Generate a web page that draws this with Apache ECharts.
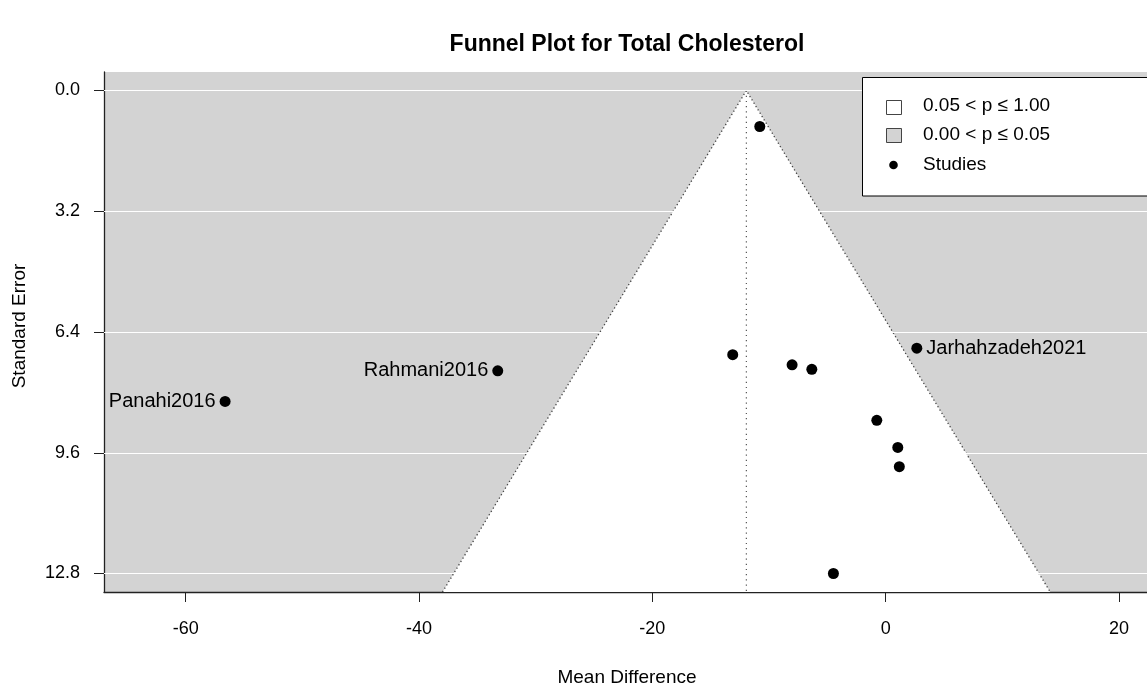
<!DOCTYPE html>
<html>
<head>
<meta charset="utf-8">
<script src="https://cdn.jsdelivr.net/npm/echarts@6/dist/echarts.min.js"></script>
<style>
  html, body { margin: 0; padding: 0; background: #ffffff; }
  #chart { width: 1147px; height: 686px; }
</style>
</head>
<body>
<div id="chart"></div>
<script>
// Study estimates: mean difference (x) and standard error (y)
const studyNames = ['', '', 'Rahmani2016', 'Panahi2016', '', '', 'Jarhahzadeh2021', '', '', '', ''];
const meanDiff   = [-10.79, -13.11, -33.25, -56.62, -8.02, -6.33, 2.67, -0.76, 1.04, 1.17, -4.48];
const stdError   = [0.954, 7.00, 7.43, 8.24, 7.27, 7.39, 6.83, 8.74, 9.46, 9.97, 12.80];
const labelSide  = ['', '', 'left', 'left', '', '', 'right', '', '', '', ''];

// Pooled estimate (funnel centre) and pseudo-confidence multiplier
const pooledEstimate = -11.94;
const zCrit = 1.96;

// Axis ticks
const seTicks = [0.0, 3.2, 6.4, 9.6, 12.8];
const mdTicks = [-60, -40, -20, 0, 20];

const X_MIN = -67, X_MAX = 22.4;
const Y_MIN = -0.49, Y_MAX = 13.29;

const FONT = '"Liberation Sans", Arial, sans-serif';
const FS = 19;        // legend and axis titles
const FS_TICK = 18;   // tick labels
const FS_STUDY = 20;  // study labels
const GREY = '#d3d3d3';

const chart = echarts.init(document.getElementById('chart'), null, { renderer: 'canvas' });

const points = meanDiff.map((x, i) => ({
  value: [x, stdError[i]],
  label: studyNames[i] ? {
    show: true,
    formatter: studyNames[i],
    position: labelSide[i],
    distance: 4
  } : { show: false }
}));

const option = {
  animation: false,
  backgroundColor: '#ffffff',
  grid: {
    left: 104, right: 0, top: 72, bottom: 94,
    show: true, backgroundColor: GREY, borderWidth: 0
  },
  xAxis: {
    type: 'value', min: X_MIN, max: X_MAX,
    axisLine: { show: true, onZero: false, lineStyle: { color: '#222', width: 1.3 } },
    axisTick: { show: true, length: 10, customValues: mdTicks, lineStyle: { color: '#222' } },
    axisLabel: { customValues: mdTicks, color: '#000', fontFamily: FONT, fontSize: FS_TICK, margin: 28 },
    splitLine: { show: false }
  },
  yAxis: {
    type: 'value', inverse: true, min: Y_MIN, max: Y_MAX,
    axisLine: { show: true, onZero: false, lineStyle: { color: '#222', width: 1.3 } },
    axisTick: { show: true, length: 10, customValues: seTicks, lineStyle: { color: '#222' } },
    axisLabel: {
      customValues: seTicks, color: '#000', fontFamily: FONT, fontSize: FS_TICK, margin: 24,
      formatter: v => v.toFixed(1)
    },
    splitLine: { show: false }
  },
  series: [
    {
      // horizontal reference lines at the standard-error ticks
      type: 'line', data: [], silent: true, z: 1,
      markLine: {
        silent: true, symbol: 'none', animation: false,
        label: { show: false },
        lineStyle: { color: '#ffffff', width: 1.2, type: 'solid' },
        data: seTicks.map(v => ({ yAxis: v }))
      }
    },
    {
      // funnel: region where 0.05 < p <= 1.00
      type: 'custom', z: 2, silent: true, clip: true,
      data: [[pooledEstimate, Y_MAX]],
      renderItem: (params, api) => {
        const c = api.value(0), ymax = api.value(1);
        const left = api.coord([c - zCrit * ymax, ymax]);
        const apex = api.coord([c, 0]);
        const right = api.coord([c + zCrit * ymax, ymax]);
        const bottom = api.coord([c, ymax]);
        return {
          type: 'group',
          children: [
            { type: 'polygon', shape: { points: [left, apex, right] },
              style: { fill: '#ffffff', stroke: null } },
            { type: 'polyline', shape: { points: [left, apex, right] },
              style: { fill: null, stroke: '#444', lineWidth: 1.3, lineDash: [1.3, 2.6] } },
            { type: 'line', shape: { x1: apex[0], y1: apex[1], x2: bottom[0], y2: bottom[1] },
              style: { stroke: '#555', lineWidth: 1.2, lineDash: [1.2, 4] } }
          ]
        };
      }
    },
    {
      type: 'scatter', z: 5, name: 'Studies',
      symbol: 'circle', symbolSize: 11,
      itemStyle: { color: '#000', opacity: 1 },
      label: { color: '#000', fontFamily: FONT, fontSize: FS_STUDY },
      data: points
    }
  ],
  graphic: [
    { type: 'text', z: 10,
      style: { x: 627, y: 45, text: 'Funnel Plot for Total Cholesterol', font: 'bold 23px ' + FONT,
               fill: '#000', textAlign: 'center', textVerticalAlign: 'middle' } },
    { type: 'text', z: 10,
      style: { x: 627, y: 678, text: 'Mean Difference', font: FS + 'px ' + FONT,
               fill: '#000', textAlign: 'center', textVerticalAlign: 'middle' } },
    { type: 'text', z: 10, rotation: Math.PI / 2, x: 20, y: 326,
      style: { x: 0, y: 0, text: 'Standard Error', font: FS + 'px ' + FONT,
               fill: '#000', textAlign: 'center', textVerticalAlign: 'middle' } },
    // legend box
    { type: 'rect', z: 20, shape: { x: 862.5, y: 77.5, width: 300, height: 118.5 },
      style: { fill: '#ffffff', stroke: '#000', lineWidth: 1 } },
    { type: 'rect', z: 21, shape: { x: 886.5, y: 100.5, width: 15, height: 14 },
      style: { fill: '#ffffff', stroke: '#444', lineWidth: 1 } },
    { type: 'rect', z: 21, shape: { x: 886.5, y: 128.5, width: 15, height: 14 },
      style: { fill: GREY, stroke: '#444', lineWidth: 1 } },
    { type: 'circle', z: 21, shape: { cx: 893.5, cy: 165, r: 4.3 }, style: { fill: '#000' } },
    { type: 'text', z: 21, style: { x: 923, y: 106, text: '0.05 < p \u2264 1.00', font: FS + 'px ' + FONT,
      fill: '#000', textVerticalAlign: 'middle' } },
    { type: 'text', z: 21, style: { x: 923, y: 135, text: '0.00 < p \u2264 0.05', font: FS + 'px ' + FONT,
      fill: '#000', textVerticalAlign: 'middle' } },
    { type: 'text', z: 21, style: { x: 923, y: 165, text: 'Studies', font: FS + 'px ' + FONT,
      fill: '#000', textVerticalAlign: 'middle' } }
  ]
};

chart.setOption(option);
</script>
</body>
</html>
